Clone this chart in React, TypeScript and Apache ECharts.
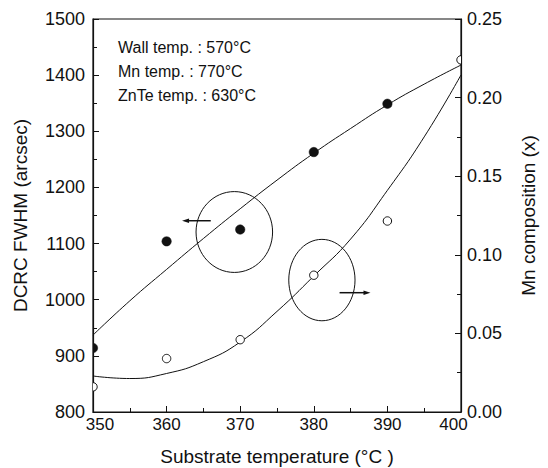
import React, { useEffect, useRef } from "react";
import * as echarts from "echarts";

// Measured points
const fwhmTemps = [350, 360, 370, 380, 390];
const fwhmValues = [914, 1104, 1125, 1263, 1349];
const mnTemps = [350, 360, 370, 380, 390, 400];
const mnValues = [0.016, 0.034, 0.046, 0.087, 0.1215, 0.224];

// Fitted curves
const fitTemps = [350, 355, 360, 365, 370, 375, 380, 385, 390, 395, 400];
const fwhmFit = [937, 998, 1054, 1109, 1162, 1213, 1261, 1305, 1347, 1384, 1418];
const mnFit = [0.0229, 0.0213, 0.0245, 0.032, 0.0445, 0.064, 0.0865, 0.11, 0.141, 0.175, 0.2144];

// Growth conditions
const conditionLabels = ["Wall temp. : 570°C", "Mn temp. : 770°C", "ZnTe temp. : 630°C"];

// Annotations in data units: [cx, cy, rx, ry] and [tailX, headX, y]
const ellipseMarks = [
  [369.2, 1120.6, 5.2, 72],
  [381.1, 1035, 4.5, 72.5],
];
const arrowMarks = [
  [366.0, 362.1, 1140.7],
  [383.5, 387.7, 1012.5],
];

const FONT = "Liberation Sans, Arial, Helvetica, sans-serif";
const INK = "#111";

export default function App() {
  const ref = useRef<HTMLDivElement>(null);

  useEffect(() => {
    document.body.style.margin = "0";
    if (!ref.current) return;
    const chart = echarts.init(ref.current, null, { renderer: "svg" });

    const pair = (xs: number[], ys: number[]) => xs.map((x, i) => [x, ys[i]]);

    const markerSeries = (data: number[][], yIndex: number, filled: boolean) => ({
      type: "custom",
      yAxisIndex: yIndex,
      clip: true,
      encode: { x: 0, y: 1 },
      data,
      z: 5,
      renderItem: (_p: any, api: any) => {
        const c = api.coord([api.value(0), api.value(1)]);
        return {
          type: "circle",
          shape: { cx: c[0], cy: c[1], r: filled ? 4.7 : 4.2 },
          style: filled
            ? { fill: INK, stroke: INK, lineWidth: 0.5 }
            : { fill: "#fff", stroke: INK, lineWidth: 1 },
        };
      },
    });

    const tickStyle = { show: true, inside: true, length: 6, lineStyle: { color: INK, width: 1 } };
    const minorStyle = { show: true, splitNumber: 2, length: 4, lineStyle: { color: INK, width: 1 } };
    const lineStyle = { show: true, lineStyle: { color: INK, width: 1.2 } };

    const option: any = {
      animation: false,
      backgroundColor: "#fff",
      textStyle: { fontFamily: FONT, color: INK },
      grid: {
        left: 93,
        right: 87,
        top: 19,
        bottom: 56,
        outerBoundsMode: "none",
        containLabel: false,
        show: true,
        borderColor: INK,
        borderWidth: 1.2,
        backgroundColor: "transparent",
      },
      xAxis: {
        type: "value",
        min: 350,
        max: 400,
        interval: 10,
        name: "Substrate temperature (°C )",
        nameLocation: "middle",
        nameGap: 35,
        nameTextStyle: { fontSize: 19, color: INK, fontFamily: FONT },
        axisLine: lineStyle,
        axisTick: tickStyle,
        minorTick: minorStyle,
        axisLabel: {
          fontSize: 17,
          color: INK,
          margin: 4,
          fontFamily: FONT,
          formatter: (v: number) =>
            v === 350 ? `{first|${v}}` : v === 400 ? `{last|${v}}` : String(v),
          rich: {
            first: { fontSize: 17, fontFamily: FONT, color: INK, padding: [0, 0, 0, 14] },
            last: { fontSize: 17, fontFamily: FONT, color: INK, padding: [0, 15, 0, 0] },
          },
        },
        splitLine: { show: false },
      },
      yAxis: [
        {
          type: "value",
          position: "left",
          min: 800,
          max: 1500,
          interval: 100,
          name: "DCRC FWHM (arcsec)",
          nameLocation: "middle",
          nameRotate: 90,
          nameGap: 63,
          nameTextStyle: { fontSize: 19, color: INK, fontFamily: FONT },
          axisLine: lineStyle,
          axisTick: tickStyle,
          minorTick: minorStyle,
          axisLabel: {
            fontSize: 18,
            color: INK,
            margin: 8,
            fontFamily: FONT,
            formatter: (v: number) => String(v),
          },
          splitLine: { show: false },
        },
        {
          type: "value",
          position: "right",
          min: 0,
          max: 0.25,
          interval: 0.05,
          name: "Mn composition (x)",
          nameLocation: "middle",
          nameRotate: 90,
          nameGap: 58,
          nameTextStyle: { fontSize: 19, color: INK, fontFamily: FONT },
          axisLine: lineStyle,
          axisTick: tickStyle,
          minorTick: minorStyle,
          axisLabel: {
            fontSize: 18,
            color: INK,
            margin: 6,
            fontFamily: FONT,
            formatter: (v: number) => v.toFixed(2),
          },
          splitLine: { show: false },
        },
      ],
      graphic: conditionLabels.map((t, i) => ({
        type: "text",
        left: 118,
        top: 39 + i * 24,
        style: { text: t, fontSize: 16, fontFamily: FONT, fill: INK },
      })),
      series: [
        {
          name: "FWHM fit",
          type: "line",
          yAxisIndex: 0,
          data: pair(fitTemps, fwhmFit),
          smooth: true,
          showSymbol: false,
          lineStyle: { color: INK, width: 1 },
          z: 3,
        },
        {
          name: "Mn fit",
          type: "line",
          yAxisIndex: 1,
          data: pair(fitTemps, mnFit),
          smooth: true,
          showSymbol: false,
          lineStyle: { color: INK, width: 1 },
          z: 3,
        },
        markerSeries(pair(fwhmTemps, fwhmValues), 0, true),
        markerSeries(pair(mnTemps, mnValues), 1, false),
        {
          type: "custom",
          yAxisIndex: 0,
          clip: false,
          data: ellipseMarks,
          encode: { x: 0, y: 1 },
          z: 4,
          renderItem: (_p: any, api: any) => {
            const c = api.coord([api.value(0), api.value(1)]);
            const s = api.size([api.value(2), api.value(3)]);
            return {
              type: "ellipse",
              shape: { cx: c[0], cy: c[1], rx: s[0], ry: s[1] },
              style: { fill: "none", stroke: INK, lineWidth: 1 },
            };
          },
        },
        {
          type: "custom",
          yAxisIndex: 0,
          clip: false,
          data: arrowMarks,
          encode: { x: 0, y: 2 },
          z: 4,
          renderItem: (_p: any, api: any) => {
            const tail = api.coord([api.value(0), api.value(2)]);
            const head = api.coord([api.value(1), api.value(2)]);
            const dir = head[0] > tail[0] ? 1 : -1;
            const hl = 7;
            const hw = 2.3;
            return {
              type: "group",
              children: [
                {
                  type: "line",
                  shape: { x1: tail[0], y1: tail[1], x2: head[0] - dir * hl * 0.6, y2: head[1] },
                  style: { stroke: INK, lineWidth: 1.5 },
                },
                {
                  type: "polygon",
                  shape: {
                    points: [
                      [head[0], head[1]],
                      [head[0] - dir * hl, head[1] - hw],
                      [head[0] - dir * hl, head[1] + hw],
                    ],
                  },
                  style: { fill: INK, stroke: "none" },
                },
              ],
            };
          },
        },
      ],
    };

    chart.setOption(option);
    return () => chart.dispose();
  }, []);

  return <div ref={ref} style={{ width: 548, height: 468, position: "absolute", left: 0, top: 0 }} />;
}
